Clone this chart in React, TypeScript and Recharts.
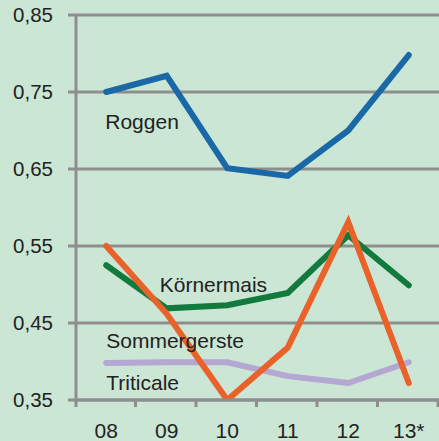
import React from "react";
import { LineChart, Line, XAxis, YAxis, CartesianGrid, LabelList } from "recharts";

const years = ["08", "09", "10", "11", "12", "13*"];
const roggen = [0.75, 0.771, 0.651, 0.641, 0.7, 0.798];
const sommergerste = [0.55, 0.462, 0.35, 0.418, 0.581, 0.372];
const koernermais = [0.525, 0.469, 0.473, 0.489, 0.564, 0.499];
const triticale = [0.398, 0.399, 0.399, 0.381, 0.372, 0.399];
const yTicks = [0.35, 0.45, 0.55, 0.65, 0.75, 0.85];

const data = years.map((y, i) => ({
  year: y,
  roggen: roggen[i],
  sommergerste: sommergerste[i],
  koernermais: koernermais[i],
  triticale: triticale[i],
}));

const W = 439;
const H = 441;
const LEFT = 76;
const BOTTOM = 41;
const TOP = 15;
const FONT = "'Liberation Sans', Arial, sans-serif";
const GRID = "#8e8e8e";
const HALF = (W - LEFT) / years.length / 2;

const XTick = (props: any) => {
  const { x, y, payload, index } = props;
  return (
    <g>
      {index === 0 && <line x1={x - HALF} x2={x - HALF} y1={y - 8} y2={y - 1} stroke={GRID} strokeWidth={3} />}
      <line x1={x + HALF - 1} x2={x + HALF - 1} y1={y - 8} y2={y - 1} stroke={GRID} strokeWidth={3} />
      <text x={x} y={y + 30} textAnchor="middle" fontSize={21} fontFamily={FONT} fill="#222">
        {payload.value}
      </text>
    </g>
  );
};

const makeLabel = (text: string, idx: number, dx: number, dy: number) => (props: any) => {
  const { x, y, index } = props;
  if (index !== idx) return null;
  return (
    <text x={x + dx} y={y + dy} fontSize={21} fontFamily={FONT} fill="#222">
      {text}
    </text>
  );
};

export default function App() {
  return (
    <div style={{ position: "absolute", left: 0, top: 0, width: W, height: H, background: "#cbe6d4" }}>
      <LineChart width={W} height={H} data={data} margin={{ top: TOP, right: 0, bottom: 0, left: 0 }}>
        <CartesianGrid vertical={false} stroke={GRID} strokeWidth={3} />
        <XAxis
          dataKey="year"
          height={BOTTOM}
          padding={{ left: HALF, right: HALF }}
          axisLine={{ stroke: GRID, strokeWidth: 3 }}
          tickLine={false}
          tick={<XTick />}
          interval={0}
        />
        <YAxis
          width={LEFT}
          domain={[0.35, 0.85]}
          ticks={yTicks}
          type="number"
          allowDataOverflow
          axisLine={{ stroke: GRID, strokeWidth: 3 }}
          tickLine={{ stroke: GRID, strokeWidth: 3 }}
          tickSize={8}
          tickMargin={15}
          tick={{ fontSize: 20.5, fontFamily: FONT, fill: "#222" }}
          tickFormatter={(v: number) => v.toFixed(2).replace(".", ",")}
        />
        <Line dataKey="triticale" stroke="#b4a7d1" strokeWidth={6} dot={false} strokeLinecap="round" isAnimationActive={false}>
          <LabelList content={makeLabel("Sommergerste", 0, 0, -15)} />
        </Line>
        <Line dataKey="koernermais" stroke="#117a3c" strokeWidth={6} dot={false} strokeLinecap="round" isAnimationActive={false}>
          <LabelList content={makeLabel("Körnermais", 1, -7, -16)} />
        </Line>
        <Line dataKey="sommergerste" stroke="#e8622a" strokeWidth={6} dot={false} strokeLinecap="round" isAnimationActive={false} />
        <Line dataKey="triticale" stroke="none" dot={false} isAnimationActive={false} legendType="none">
          <LabelList content={makeLabel("Triticale", 0, 0, 27)} />
        </Line>
        <Line dataKey="roggen" stroke="#1a68a6" strokeWidth={6} dot={false} strokeLinecap="round" isAnimationActive={false}>
          <LabelList content={makeLabel("Roggen", 0, -1, 37)} />
        </Line>
      </LineChart>
    </div>
  );
}
